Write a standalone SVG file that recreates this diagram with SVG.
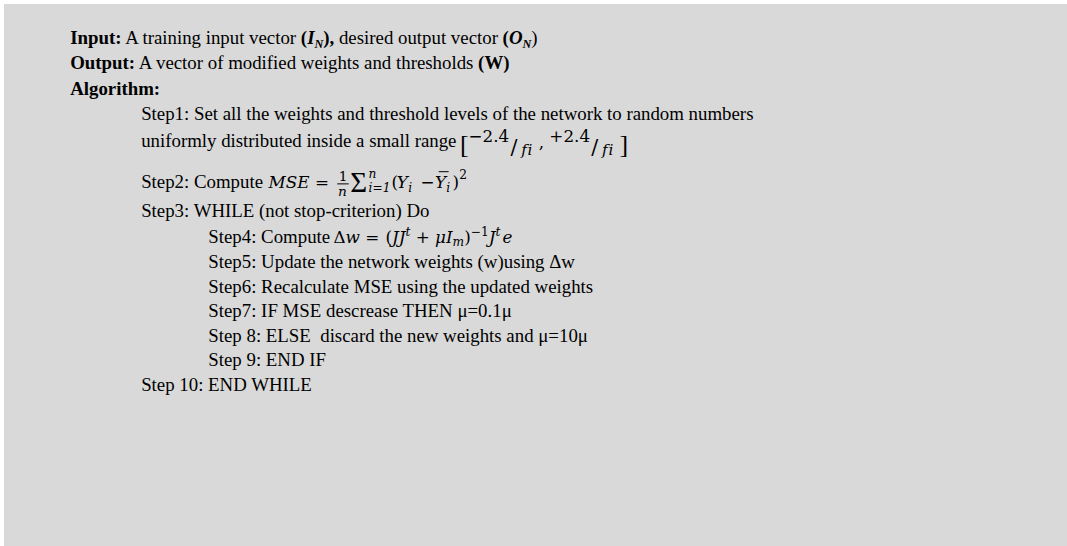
<svg xmlns="http://www.w3.org/2000/svg" width="1067" height="546" viewBox="0 0 1067 546">
  <style>
    .t { font-family: "Liberation Serif", "Times New Roman", serif; font-size: 24.7px; fill: #000; }
    .b { font-weight: bold; }
    .it { font-style: italic; }
    .sub { font-size: 16px; }
    .m { font-family: "DejaVu Serif", serif; font-size: 22px; fill: #000; }
    .mi { font-family: "DejaVu Serif", serif; font-style: italic; font-size: 22px; fill: #000; font-variant-ligatures: none; }
    .sc { font-size: 16px; }
    .big { font-size: 34px; }
    .sl { font-size: 27px; }
    .den { font-size: 20px; letter-spacing: 1px; }
    .frac { font-size: 18px; }
    .sig { font-size: 38px; }
    .bar { stroke: #000; stroke-width: 1.3; }
  </style>

  <!-- panel background -->
  <rect x="0" y="0" width="1067" height="546" fill="#ffffff"/>
  <rect id="panel" x="4" y="4" width="1063" height="542" fill="#d9d9d9"/>

  <!-- the whole listing is laid out on a 24.7px text grid and scaled down -->
  <g id="listing" transform="scale(0.763)">

  <!-- header: input / output / algorithm -->
  <g id="header">
    <text class="t" x="92" y="58"><tspan class="b">Input:</tspan> A training input vector <tspan class="b">(<tspan class="it">I</tspan></tspan><tspan class="b it sub" dy="5">N</tspan><tspan class="b" dy="-5">),</tspan> desired output vector <tspan class="b">(<tspan class="it">O</tspan></tspan><tspan class="b it sub" dy="5">N</tspan><tspan dy="-5">)</tspan></text>
    <text class="t" x="92" y="91"><tspan class="b">Output:</tspan> A vector of modified weights and thresholds <tspan class="b">(W)</tspan></text>
    <text class="t b" x="92" y="124">Algorithm:</text>
  </g>

  <!-- step 1 with initial weight range -->
  <g id="step1">
    <text class="t" x="185" y="157">Step1: Set all the weights and threshold levels of the network to random numbers</text>
    <text class="t" x="185" y="193">uniformly distributed inside a small range</text>
    <text class="t big" x="603" y="200">[</text>
    <text class="m" x="614" y="186">−2.4</text>
    <text class="m sl" x="669" y="202">/</text>
    <text class="mi den" x="683" y="203">fi</text>
    <text class="m" x="706" y="194">,</text>
    <text class="m" x="720" y="186">+2.4</text>
    <text class="m sl" x="775" y="202">/</text>
    <text class="mi den" x="789" y="203">fi</text>
    <text class="t big" x="812" y="200">]</text>
  </g>

  <!-- step 2: mean squared error -->
  <g id="step2">
    <text class="t" x="185" y="246">Step2: Compute</text>
    <text class="mi" x="352" y="246">MSE</text>
    <text class="m" x="413" y="246">=</text>
    <text class="m frac" x="444" y="237">1</text>
    <line class="bar" x1="442" y1="241" x2="457" y2="241"/>
    <text class="mi frac" x="443" y="257">n</text>
    <text class="t sig" x="459" y="251">Σ</text>
    <text class="mi sc" x="483" y="233">n</text>
    <text class="mi sc" x="483" y="252">i<tspan class="m sc">=1</tspan></text>
    <text class="m" x="513" y="246">(</text>
    <text class="mi" x="520" y="246">Y</text>
    <text class="mi sc" x="535" y="252">i</text>
    <text class="m" x="551" y="246">−</text>
    <text class="mi" x="570" y="246">Y</text>
    <line class="bar" x1="575" y1="225" x2="588" y2="225"/>
    <text class="mi sc" x="585" y="252">i</text>
    <text class="m" x="593" y="246">)</text>
    <text class="m sc" x="602" y="235">2</text>
  </g>

  <!-- training loop -->
  <g id="step3">
    <text class="t" x="185" y="285">Step3: WHILE (not stop-criterion) Do</text>
  </g>
  <g id="step4">
    <text class="t" x="273" y="318">Step4: Compute</text>
    <text class="m" x="437" y="318">Δ<tspan class="mi">w</tspan><tspan dx="7">=</tspan><tspan dx="8">(</tspan><tspan class="mi">JJ</tspan><tspan class="mi sc" dy="-9">t</tspan><tspan dx="7" dy="9">+</tspan><tspan class="mi" dx="7">μI</tspan><tspan class="mi sc" dy="5">m</tspan><tspan dy="-5">)</tspan><tspan class="sc" dy="-9">−1</tspan><tspan class="mi" dy="9">J</tspan><tspan class="mi sc" dy="-9">t</tspan><tspan class="mi" dx="3" dy="9">e</tspan></text>
  </g>
  <g id="step5">
    <text class="t" x="273" y="351">Step5: Update the network weights (w)using Δw</text>
  </g>
  <g id="step6">
    <text class="t" x="273" y="384">Step6: Recalculate MSE using the updated weights</text>
  </g>
  <g id="step7">
    <text class="t" x="273" y="416">Step7: IF MSE descrease THEN μ=0.1μ</text>
  </g>
  <g id="step8">
    <text class="t" x="273" y="448" xml:space="preserve">Step 8: ELSE  discard the new weights and μ=10μ</text>
  </g>
  <g id="step9">
    <text class="t" x="273" y="480">Step 9: END IF</text>
  </g>
  <g id="step10">
    <text class="t" x="185" y="512">Step 10: END WHILE</text>
  </g>

  </g>
</svg>
